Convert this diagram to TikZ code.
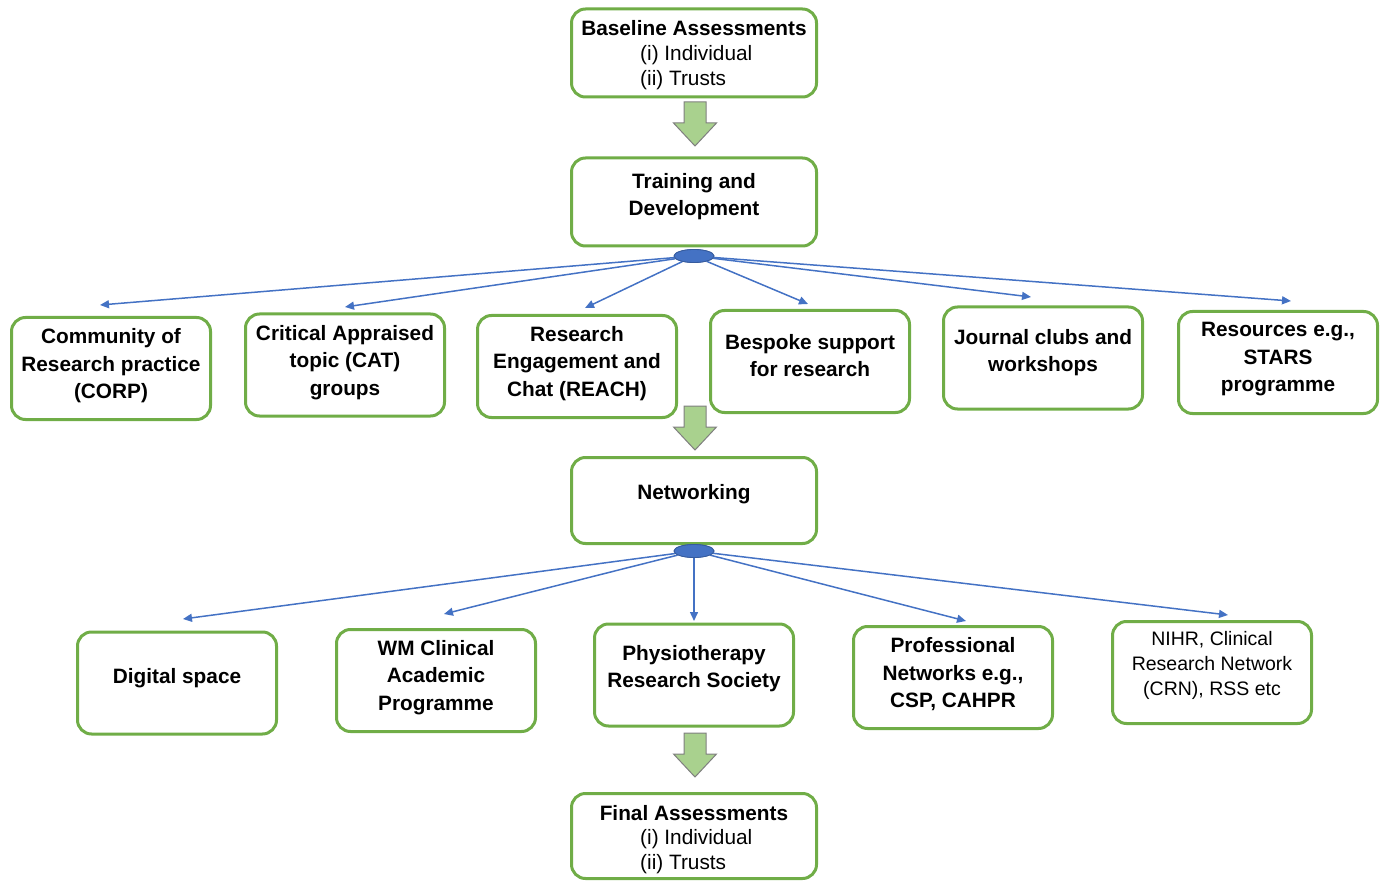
\documentclass[tikz,border=0pt]{standalone}
\usepackage{fontspec}
\setmainfont{Liberation Sans}
\usetikzlibrary{shapes.geometric,arrows.meta}
\definecolor{bgreen}{HTML}{70AD47}
\definecolor{lgreen}{HTML}{A9D18E}
\definecolor{ablue}{HTML}{4472C4}
\definecolor{agray}{HTML}{7F7F7F}
\begin{document}
\begin{tikzpicture}[x=1pt,y=-1pt,
  box/.style={draw=bgreen, line width=3pt, rounded corners=14pt, fill=white, inner sep=0pt},
  wbox/.style={box, minimum width=245pt, minimum height=88pt},
  sbox/.style={box, minimum width=199pt, minimum height=102pt},
  txt/.style={align=center, inner sep=0pt, font=\fontsize{20.8}{27.5}\selectfont\bfseries},
  ntxt/.style={align=center, inner sep=0pt, font=\fontsize{19.5}{25}\selectfont},
  rtxt/.style={anchor=west, inner sep=0pt, font=\fontsize{20.8}{25}\selectfont},
  hub/.style={ellipse, draw=ablue!80!black, fill=ablue, line width=0.8pt, minimum width=40pt, minimum height=13pt, inner sep=0pt},
  conn/.style={draw=ablue, line width=1.5pt, -{Triangle[length=9pt,width=8pt]}},
  barrow/.style={draw=agray, fill=lgreen, line width=1pt, line join=miter}
]
\useasboundingbox (0,0) rectangle (1386,882);

% top boxes
\node[wbox] (base) at (694,53) {};
\node[txt] (base-t) at (694,28.5) {Baseline Assessments};
\node[rtxt] (base-i) at (640,55) {(i) Individual};
\node[rtxt] (base-ii) at (640,80) {(ii) Trusts};

\node[wbox] (train) at (694,202) {};
\node[txt] (train-t) at (694,196.5) {Training and\\Development};

\node[wbox, minimum height=86pt] (net) at (694,500.5) {};
\node[txt] (net-t) at (694,494) {Networking};

\node[wbox, minimum height=85pt] (fin) at (694,836) {};
\node[txt] (fin-t) at (694,813.5) {Final Assessments};
\node[rtxt] (fin-i) at (640,839) {(i) Individual};
\node[rtxt] (fin-ii) at (640,864) {(ii) Trusts};

% row 1
\node[sbox] (corp) at (111,368.5) {};
\node[txt] (corp-t) at (111,366) {Community of\\Research practice\\(CORP)};
\node[sbox] (cat) at (345,365) {};
\node[txt] (cat-t) at (345,362.5) {Critical Appraised\\topic (CAT)\\groups};
\node[sbox] (reach) at (577,366.5) {};
\node[txt] (reach-t) at (577,363.5) {Research\\Engagement and\\Chat (REACH)};
\node[sbox] (bes) at (810,361.5) {};
\node[txt] (bes-t) at (810,355.5) {Bespoke support\\for research};
\node[sbox] (jour) at (1043,358) {};
\node[txt] (jour-t) at (1043,352.5) {Journal clubs and\\workshops};
\node[sbox] (res) at (1278,362.5) {};
\node[txt] (res-t) at (1278,359.5) {Resources e.g.,\\STARS\\programme};

% row 2
\node[sbox] (dig) at (177,683) {};
\node[txt] (dig-t) at (177,678) {Digital space};
\node[sbox] (wm) at (436,680.5) {};
\node[txt] (wm-t) at (436,677.5) {WM Clinical\\Academic\\Programme};
\node[sbox] (phy) at (694,675) {};
\node[txt] (phy-t) at (694,668.5) {Physiotherapy\\Research Society};
\node[sbox] (pro) at (953,677.5) {};
\node[txt] (pro-t) at (953,674.5) {Professional\\Networks e.g.,\\CSP, CAHPR};
\node[sbox] (nihr) at (1212,672.5) {};
\node[ntxt] (nihr-t) at (1212,665.5) {NIHR, Clinical\\Research Network\\(CRN), RSS etc};

% block arrows
\coordinate (a1) at (695,124);
\coordinate (a2) at (695,428);
\coordinate (a3) at (695,755);
\foreach \a in {a1,a2,a3}{
  \draw[barrow, shift={(\a)}] (-11,-22) -- (11,-22) -- (11,-1) -- (21.5,-1) -- (0,22) -- (-21.5,-1) -- (-11,-1) -- cycle;
}

% hubs
\node[hub] (e1) at (694,256) {};
\node[hub] (e2) at (694,551) {};

% targets
\coordinate (t1) at (100,305);
\coordinate (t2) at (345,307);
\coordinate (t3) at (585,308);
\coordinate (t4) at (808,304);
\coordinate (t5) at (1031,297);
\coordinate (t6) at (1291,301);
\coordinate (u1) at (183,619);
\coordinate (u2) at (444,614);
\coordinate (u3) at (694,621);
\coordinate (u4) at (966,621);
\coordinate (u5) at (1228,615);

\foreach \t in {t1,t2,t3,t4,t5,t6}{ \draw[conn] (e1) -- (\t); }
\foreach \t in {u1,u2,u3,u4,u5}{ \draw[conn] (e2) -- (\t); }
\node[hub] at (e1) {};
\node[hub] at (e2) {};
\end{tikzpicture}
\end{document}
